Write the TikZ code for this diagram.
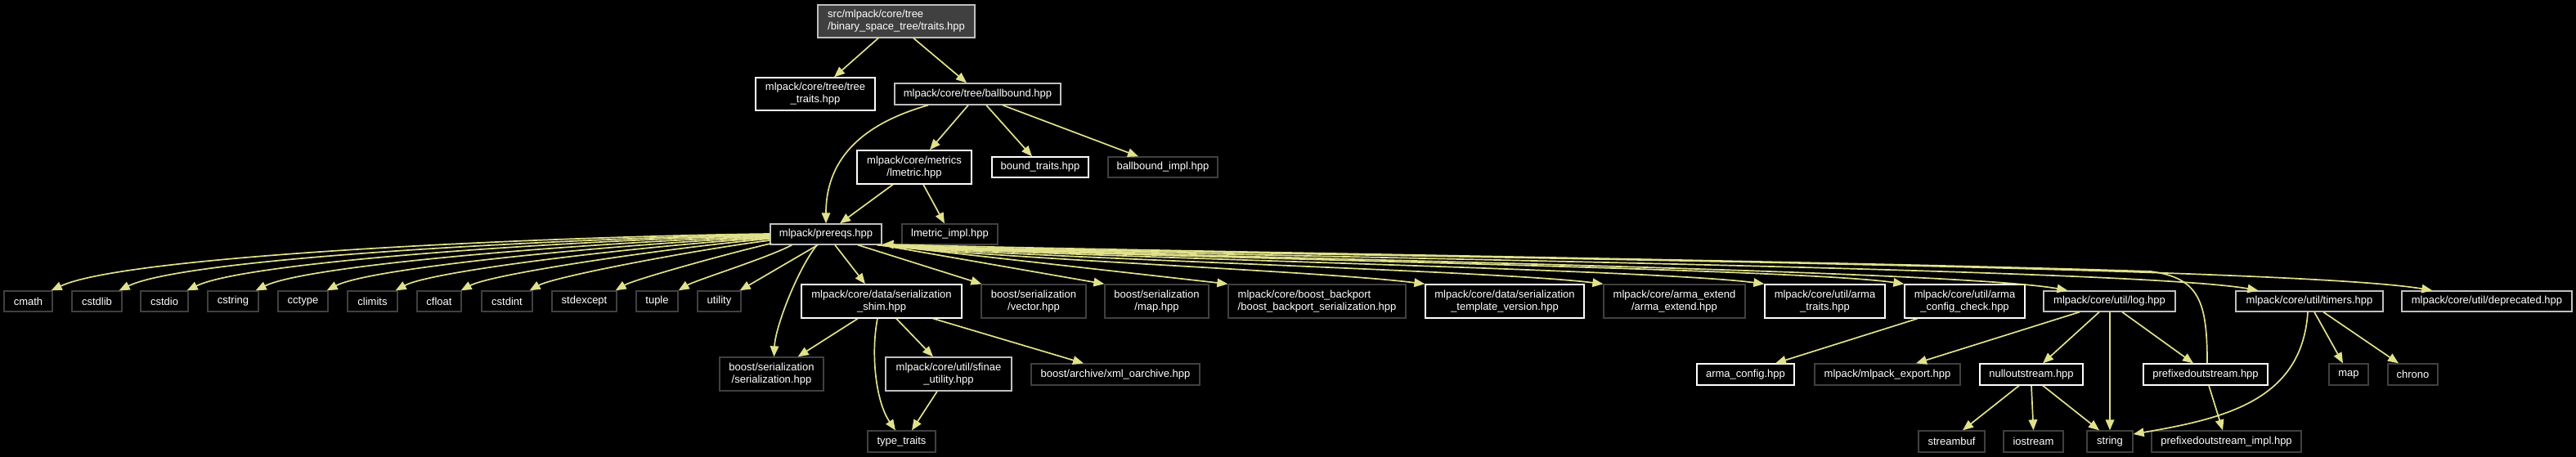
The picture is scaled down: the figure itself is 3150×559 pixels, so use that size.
\documentclass[tikz,border=0pt]{standalone}
\usepackage{fontspec}
\setmainfont{Liberation Sans}
\usetikzlibrary{arrows.meta,calc}
\definecolor{edgec}{RGB}{225,225,140}
\definecolor{lgrey}{RGB}{191,191,191}
\definecolor{dgrey}{RGB}{64,64,64}
\definecolor{rootfill}{RGB}{64,64,64}
\definecolor{baseline}{RGB}{90,90,90}
\begin{document}
\begin{tikzpicture}[x=1pt,y=-1pt,
  nb/.style={draw, line width=1.3pt, inner sep=0pt, fill=black, text=white,
             font=\fontsize{13}{15}\selectfont, align=center},
  wb/.style={nb, draw=white},
  lb/.style={nb, draw=lgrey},
  db/.style={nb, draw=dgrey},
  rb/.style={nb, draw=lgrey, fill=rootfill, align=left},
  edge/.style={draw=edgec, line width=1.7pt, -{Triangle[length=13pt,width=10.5pt]}},
  s1/.style={minimum height=25pt},
  s2/.style={minimum height=41pt}
]
\fill[black] (0,0) rectangle (3150,559);
\useasboundingbox (0,0) rectangle (3150,559);
\draw[baseline, line width=1.5pt] (0,557.5) -- (3150,557.5);

% ---- top part
\node[rb, minimum width=192pt, minimum height=40pt] (root) at (1096,26) {src/mlpack/core/tree\\/binary\_space\_tree/traits.hpp};
\node[wb, minimum width=146pt, minimum height=40pt] (treetraits) at (997,115) {mlpack/core/tree/tree\\\_traits.hpp};
\node[lb, minimum width=203pt, minimum height=26pt] (ballbound) at (1195.5,115) {mlpack/core/tree/ballbound.hpp};
\node[wb, s2, minimum width=140pt] (metrics) at (1118,204.5) {mlpack/core/metrics\\/lmetric.hpp};
\node[wb, s1, minimum width=118pt] (boundtraits) at (1272,204.5) {bound\_traits.hpp};
\node[db, s1, minimum width=134pt] (ballboundimpl) at (1422,204.5) {ballbound\_impl.hpp};
\node[lb, s1, minimum width=136pt] (prereqs) at (1010,286.5) {mlpack/prereqs.hpp};
\node[db, s1, minimum width=117pt] (lmetricimpl) at (1161.5,286.5) {lmetric\_impl.hpp};

% ---- std headers row
\node[db, s1, minimum width=59pt] (cmath) at (34.5,368.5) {cmath};
\node[db, s1, minimum width=61pt] (cstdlib) at (118.5,368.5) {cstdlib};
\node[db, s1, minimum width=58pt] (cstdio) at (201,368.5) {cstdio};
\node[db, s1, minimum width=62pt] (cstring) at (285,368.5) {cstring};
\node[db, s1, minimum width=61pt] (cctype) at (370.5,368.5) {cctype};
\node[db, s1, minimum width=61pt] (climits) at (455.5,368.5) {climits};
\node[db, s1, minimum width=54pt] (cfloat) at (537,368.5) {cfloat};
\node[db, s1, minimum width=62pt] (cstdint) at (620,368.5) {cstdint};
\node[db, s1, minimum width=79pt] (stdexcept) at (714.5,368.5) {stdexcept};
\node[db, s1, minimum width=51pt] (tuple) at (803.5,368.5) {tuple};
\node[db, s1, minimum width=53pt] (utility) at (879.5,368.5) {utility};

% ---- second row (two-line)
\node[wb, s2, minimum width=196pt] (shim) at (1078,368.5) {mlpack/core/data/serialization\\\_shim.hpp};
\node[db, s2, minimum width=128pt] (vector) at (1264,368.5) {boost/serialization\\/vector.hpp};
\node[db, s2, minimum width=127pt] (bmap) at (1414.5,368.5) {boost/serialization\\/map.hpp};
\node[db, s2, minimum width=217pt, align=left] (backport) at (1610.5,368.5) {mlpack/core/boost\_backport\\/boost\_backport\_serialization.hpp};
\node[wb, s2, minimum width=194pt] (templ) at (1840,368.5) {mlpack/core/data/serialization\\\_template\_version.hpp};
\node[db, s2, minimum width=173pt] (armaext) at (2047.5,368.5) {mlpack/core/arma\_extend\\/arma\_extend.hpp};
\node[wb, s2, minimum width=147pt] (armatraits) at (2231.5,368.5) {mlpack/core/util/arma\\\_traits.hpp};
\node[wb, s2, minimum width=147pt] (armacfgchk) at (2402.5,368.5) {mlpack/core/util/arma\\\_config\_check.hpp};
\node[lb, s1, minimum width=161pt] (log) at (2579.5,368.5) {mlpack/core/util/log.hpp};
\node[lb, s1, minimum width=180pt] (timers) at (2824,368.5) {mlpack/core/util/timers.hpp};
\node[lb, s1, minimum width=208pt] (deprecated) at (3041,368.5) {mlpack/core/util/deprecated.hpp};

% ---- third row
\node[db, s2, minimum width=127pt] (bser) at (943.5,457.5) {boost/serialization\\/serialization.hpp};
\node[lb, s2, minimum width=154pt] (sfinae) at (1160,457.5) {mlpack/core/util/sfinae\\\_utility.hpp};
\node[db, minimum height=26pt, minimum width=206pt] (xml) at (1364,458) {boost/archive/xml\_oarchive.hpp};
\node[wb, minimum height=26pt, minimum width=119pt] (armacfg) at (2134.5,458) {arma\_config.hpp};
\node[db, minimum height=26pt, minimum width=178pt] (export) at (2308,458) {mlpack/mlpack\_export.hpp};
\node[wb, minimum height=26pt, minimum width=126pt] (nullout) at (2484,458) {nulloutstream.hpp};
\node[wb, minimum height=26pt, minimum width=152pt] (prefout) at (2697,458) {prefixedoutstream.hpp};
\node[db, minimum height=26pt, minimum width=48pt] (map) at (2872,458) {map};
\node[db, minimum height=26pt, minimum width=61pt] (chrono) at (2950.5,458) {chrono};

% ---- bottom row
\node[db, minimum height=26pt, minimum width=83pt] (typetraits) at (1102.5,540) {type\_traits};
\node[db, minimum height=26pt, minimum width=81pt] (streambuf) at (2386.5,540) {streambuf};
\node[db, minimum height=26pt, minimum width=73pt] (iostream) at (2486.5,540) {iostream};
\node[db, minimum height=26pt, minimum width=56pt] (string) at (2580,540) {string};
\node[db, minimum height=26pt, minimum width=183pt] (prefimpl) at (2722.5,540) {prefixedoutstream\_impl.hpp};

% ================= edges
\draw[edge] ($(root.south)+(-22,0)$) -- ($(treetraits.north)+(23,0)$);
\draw[edge] ($(root.south)+(21,0)$) -- ($(ballbound.north)+(-13.5,0)$);

\draw[edge] ($(ballbound.south)+(-60.5,0)$) .. controls (1060,150) and (1010,190) .. (prereqs.north);
\draw[edge] ($(ballbound.south)+(-11.5,0)$) -- ($(metrics.north)+(19,0)$);
\draw[edge] ($(ballbound.south)+(10.5,0)$) -- ($(boundtraits.north)+(-10,0)$);
\draw[edge] ($(ballbound.south)+(30.5,0)$) -- ($(ballboundimpl.north)+(-30,0)$);

\draw[edge] ($(metrics.south)+(-26,0)$) -- ($(prereqs.north)+(17,0)$);
\draw[edge] ($(metrics.south)+(11,0)$) -- ($(lmetricimpl.north)+(-6.5,0)$);

% prereqs -> left fan
\draw[edge] ($(prereqs.west)+(0,-0.5)$) .. controls (692,289) and (157,311) .. ($(cmath.north east)+(-2,0)$);
\draw[edge] ($(prereqs.west)+(0,0.5)$) .. controls (715,291) and (230,314) .. ($(cstdlib.north east)+(-4,0)$);
\draw[edge] ($(prereqs.west)+(0,1.5)$) .. controls (742,292) and (305,318) .. ($(cstdio.north east)+(-2,0)$);
\draw[edge] ($(prereqs.west)+(0,2.5)$) .. controls (766,294) and (380,322) .. ($(cstring.north east)+(-4,0)$);
\draw[edge] ($(prereqs.west)+(0,3.5)$) .. controls (790,296) and (455,326) .. ($(cctype.north east)+(-2,0)$);
\draw[edge] ($(prereqs.west)+(0,4.5)$) .. controls (814,298) and (530,330) .. ($(climits.north east)+(-3,0)$);
\draw[edge] ($(prereqs.west)+(0,5.5)$) .. controls (836,301) and (603,334) .. ($(cfloat.north east)+(-1,0)$);
\draw[edge] ($(prereqs.west)+(0,7.5)$) .. controls (860,304) and (678,338) .. ($(cstdint.north east)+(-4,0)$);
\draw[edge] ($(prereqs.south west)+(2,-2)$) .. controls (890,310) and (775,342) .. ($(stdexcept.north east)+(-2,0)$);
\draw[edge] ($(prereqs.south west)+(27,0)$) .. controls (940,315) and (850,343) .. ($(tuple.north east)+(0,0)$);
\draw[edge] ($(prereqs.south)+(-10,0)$) -- ($(utility.north east)+(-2,0)$);

% prereqs -> down / right
\draw[edge] ($(prereqs.south)+(-11,0)$) .. controls (975,330) and (948,400) .. ($(bser.north)+(3,0)$);
\draw[edge] ($(prereqs.south)+(11,0)$) -- ($(shim.north)+(-20,0)$);
\draw[edge] ($(prereqs.south)+(39,0)$) -- ($(vector.north west)+(1,0)$);
\draw[edge] ($(prereqs.south east)+(-2,0)$) -- (bmap.north west);
\draw[edge] ($(prereqs.south east)+(-1,0)$) -- (backport.north west);
\draw[edge] ($(prereqs.south east)+(-6,0)$) .. controls (1250,318) and (1620,332) .. (templ.north west);
\draw[edge] ($(prereqs.south east)+(-5,0)$) .. controls (1260,316) and (1830,331) .. (armaext.north west);
\draw[edge] ($(prereqs.south east)+(-4,0)$) .. controls (1270,314) and (2020,329) .. (armatraits.north west);
\draw[edge] ($(prereqs.south east)+(-3,0)$) .. controls (1280,313) and (2190,327) .. (armacfgchk.north west);
\draw[edge] ($(prereqs.south east)+(-2,0)$) .. controls (1290,312) and (2380,328) .. ($(log.north west)+(30,0)$);
\draw[edge] ($(prereqs.south east)+(-1,0)$) .. controls (1300,311) and (2600,326) .. ($(timers.north west)+(28,0)$);
\draw[edge] (prereqs.south east) .. controls (1310,310) and (2780,322) .. ($(deprecated.north west)+(38,0)$);

% prefixedoutstream -> prereqs (back edge)
\coordinate (bend) at (2630,332);
\draw[edge] ($(prefout.north)+(2,0)$) .. controls (2699,370) and (2690,340) .. (bend)
   .. controls (2200,318) and (1320,306) .. ($(prereqs.south east)+(1,-1)$);

% shim
\draw[edge] ($(shim.south)+(-29,0)$) -- ($(bser.north east)+(-32,0)$);
\draw[edge] ($(shim.south)+(-5,0)$) .. controls (1065,430) and (1070,490) .. ($(typetraits.north)+(-7.5,0)$);
\draw[edge] ($(shim.south)+(18,0)$) -- ($(sfinae.north)+(-19,0)$);
\draw[edge] ($(shim.south)+(63,0)$) -- ($(xml.north)+(-39,0)$);
\draw[edge] ($(sfinae.south)+(-14,0)$) -- ($(typetraits.north)+(12.5,0)$);

% util
\draw[edge] ($(armacfgchk.south)+(-57.5,0)$) -- ($(armacfg.north)+(36.5,0)$);
\draw[edge] ($(log.south)+(-36.5,0)$) -- ($(export.north)+(35,0)$);
\draw[edge] ($(log.south)+(-12.5,0)$) -- ($(nullout.north)+(14,0)$);
\draw[edge] ($(log.south)+(0.5,0)$) -- (string.north);
\draw[edge] ($(log.south)+(15.5,0)$) -- ($(prefout.north)+(-15,0)$);
\draw[edge] ($(nullout.south)+(-15,0)$) -- ($(streambuf.north)+(13.5,0)$);
\draw[edge] (nullout.south) -- (iostream.north);
\draw[edge] ($(nullout.south)+(14,0)$) -- ($(string.north)+(-13,0)$);
\draw[edge] ($(prefout.south)+(4,0)$) -- ($(prefimpl.north)+(-4.5,0)$);
\draw[edge] ($(timers.south)+(-2,0)$) .. controls (2815,490) and (2720,512) .. ($(string.east)+(0,-9)$);
\draw[edge] ($(timers.south)+(6,0)$) -- ($(map.north)+(-7,0)$);
\draw[edge] ($(timers.south)+(17,0)$) -- ($(chrono.north)+(-17.5,0)$);
\end{tikzpicture}
\end{document}
